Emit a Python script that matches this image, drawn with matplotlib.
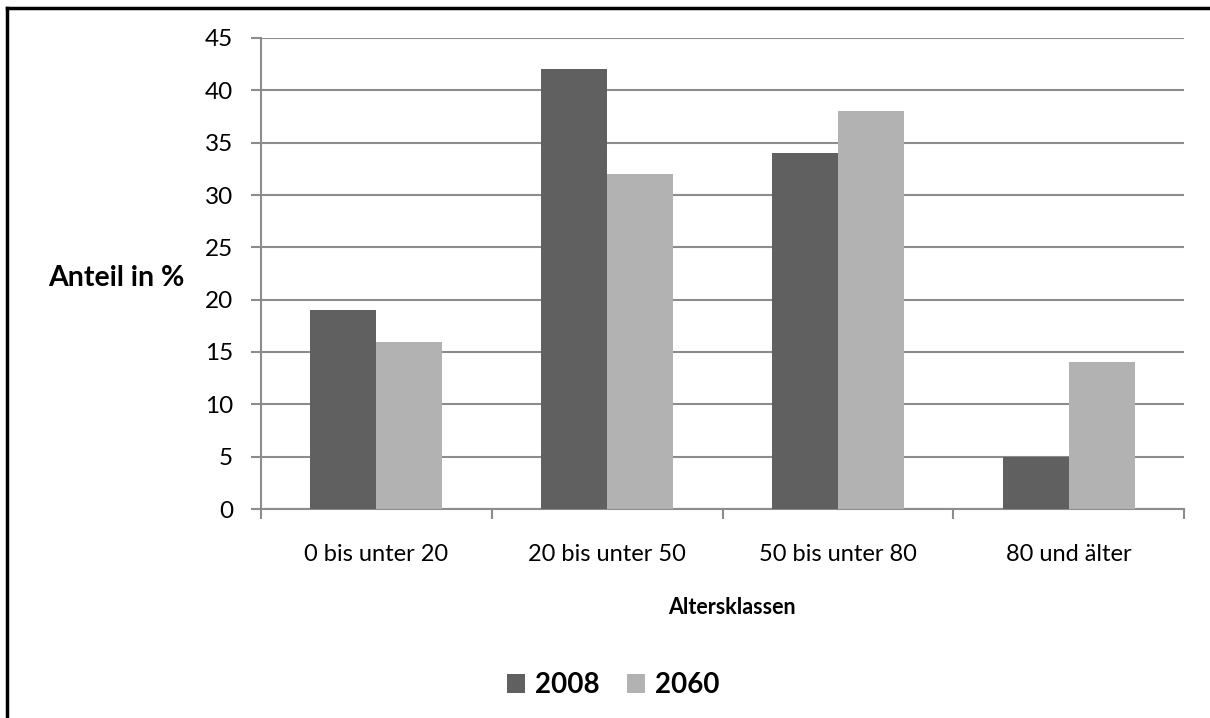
import numpy as np
import matplotlib.pyplot as plt
from matplotlib.lines import Line2D

# Data
categories = ['0 bis unter 20', '20 bis unter 50', '50 bis unter 80', '80 und älter']
values_2008 = [19, 42, 34, 5]
values_2060 = [16, 32, 38, 14]
series_names = ['2008', '2060']

plt.rcParams['font.family'] = ['Lato', 'DejaVu Sans']

fig = plt.figure(figsize=(12.1, 7.18), dpi=100)
ax = fig.add_axes([261 / 1210, 1 - 509 / 718, (1184 - 261) / 1210, (509 - 38) / 718])

x = np.arange(len(categories))
w = 0.286
ax.bar(x - w / 2, values_2008, w, color='#606060', label=series_names[0], zorder=3)
ax.bar(x + w / 2, values_2060, w, color='#b2b2b2', label=series_names[1], zorder=3)

ax.set_xlim(-0.5, len(categories) - 0.5)
ax.set_ylim(0, 45)
ax.set_yticks(np.arange(0, 46, 5))
ax.yaxis.grid(True, color='#8c8c8c', linewidth=1.5, zorder=0)
ax.set_axisbelow(True)

# category ticks on boundaries
ax.set_xticks(x)
ax.set_xticklabels(categories, fontsize=17)
ax.tick_params(axis='x', length=0, pad=25)
ax.set_xticks(np.arange(-0.5, len(categories)), minor=True)
ax.tick_params(axis='x', which='minor', length=7, color='#8c8c8c', width=1.5, direction='out')
ax.tick_params(axis='y', labelsize=17.5, length=7, color='#8c8c8c', width=1.5, pad=13)

for s in ['top', 'right']:
    ax.spines[s].set_visible(False)
for s in ['left', 'bottom']:
    ax.spines[s].set_color('#8c8c8c')
    ax.spines[s].set_linewidth(1.5)

fig.text(116 / 1210, 1 - 278 / 718, 'Anteil in %', fontsize=20.5, fontweight='bold',
         ha='center', va='center')
fig.text(732 / 1210, 1 - 607 / 718, 'Altersklassen', fontsize=15.5, fontweight='bold',
         ha='center', va='center')

leg = fig.legend(loc='center', bbox_to_anchor=(613 / 1210, 1 - 685 / 718), ncol=2,
                 frameon=False, prop={'size': 20, 'weight': 'bold'},
                 handlelength=0.65, handleheight=0.65, handletextpad=0.35, columnspacing=1.0)

# outer border (left and top visible)
fig.add_artist(Line2D([7 / 1210, 7 / 1210], [0, 1 - 8 / 718], color='black', linewidth=2.5,
                      transform=fig.transFigure))
fig.add_artist(Line2D([7 / 1210, 1], [1 - 8 / 718, 1 - 8 / 718], color='black', linewidth=2.5,
                      transform=fig.transFigure))

fig.savefig('out.png', dpi=100)
